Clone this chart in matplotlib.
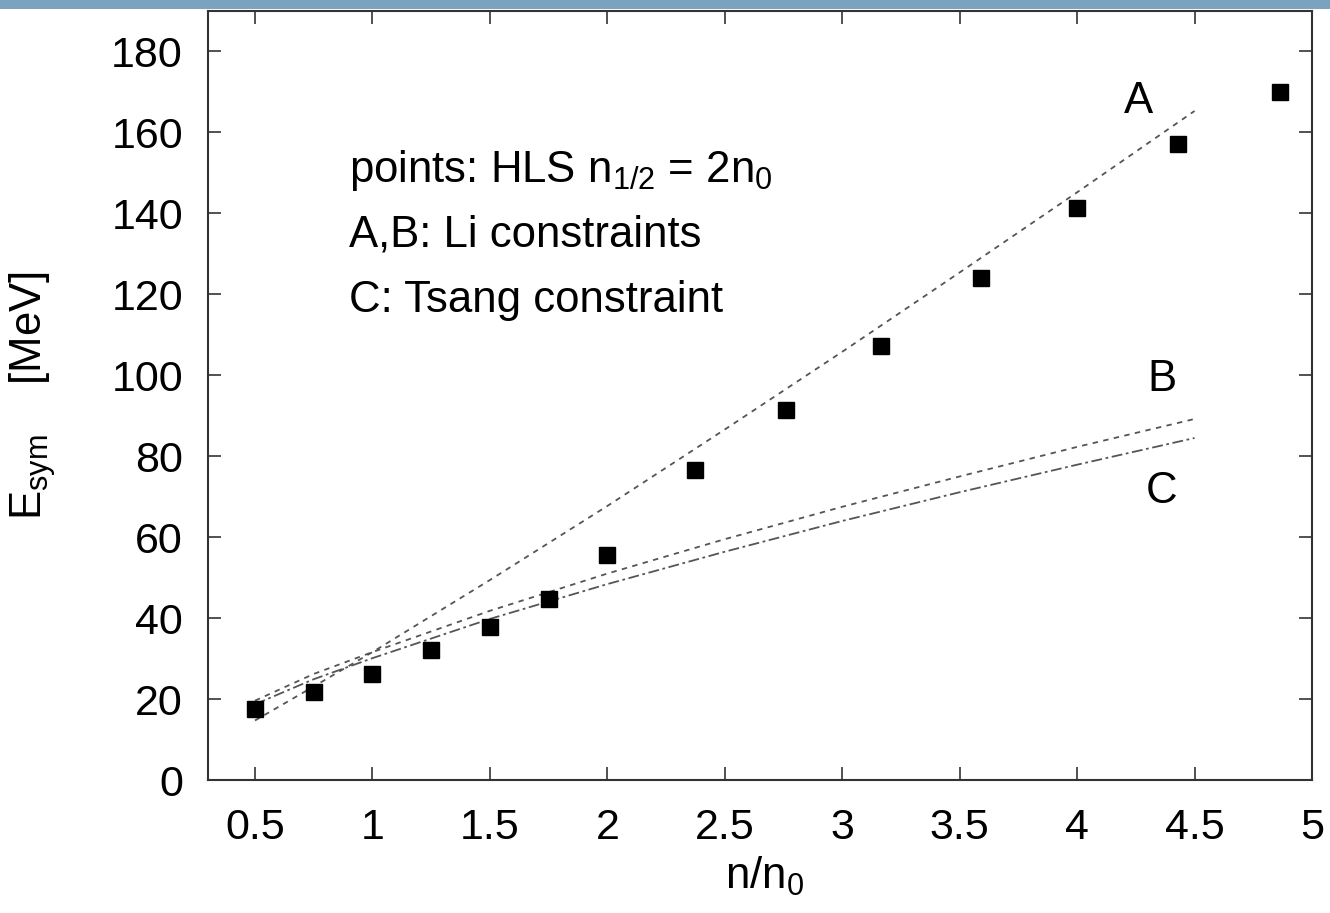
import matplotlib
matplotlib.use('Agg')
from matplotlib import pyplot as plt
from matplotlib.patches import Rectangle
import numpy as np

plt.rcParams['font.family'] = ['Liberation Sans', 'DejaVu Sans']
plt.rcParams['mathtext.fontset'] = 'custom'
plt.rcParams['mathtext.rm'] = 'Liberation Sans'
plt.rcParams['mathtext.it'] = 'Liberation Sans'

# HLS points, n_1/2 = 2 n0
n_hls = [0.5, 0.75, 1.0, 1.25, 1.5, 1.75, 2.0, 2.375, 2.76, 3.165, 3.59, 4.0, 4.43, 4.865]
e_hls = [17.6, 21.8, 26.2, 32.2, 37.9, 44.6, 55.7, 76.5, 91.3, 107.2, 124.0, 141.3, 157.2, 170.0]

# constraint curves sampled along n/n0
n_line = [0.5, 0.75, 1.0, 1.5, 2.0, 2.5, 3.0, 3.5, 4.0, 4.5]
e_a = [14.7, 23.1, 31.6, 49.4, 67.7, 86.6, 105.8, 125.4, 145.2, 165.3]
e_b = [19.6, 26.2, 31.6, 41.8, 51.0, 59.5, 67.5, 75.0, 82.3, 89.2]
e_c = [18.7, 24.9, 30.1, 39.8, 48.4, 56.4, 64.0, 71.1, 77.9, 84.5]

xticks = [0.5, 1, 1.5, 2, 2.5, 3, 3.5, 4, 4.5, 5]
xticklabels = ['0.5', '1', '1.5', '2', '2.5', '3', '3.5', '4', '4.5', '5']
yticks = list(range(0, 181, 20))

fig = plt.figure(figsize=(13.3, 9.13), dpi=100)
fig.patches.append(Rectangle((0, 1 - 9/913.), 1, 9/913., transform=fig.transFigure,
                             facecolor='#7ba3bf', edgecolor='none', zorder=0))
ax = fig.add_axes([208/1330., 133/913., 1104/1330., 769/913.])

lc = '#555555'
ax.plot(n_line, e_a, color=lc, lw=1.3, dashes=(3, 3))
ax.plot(n_line, e_b, color=lc, lw=1.3, dashes=(3, 3))
ax.plot(n_line, e_c, color=lc, lw=1.3, dashes=(6, 2, 1.5, 2))
ax.plot(n_hls, e_hls, 's', color='black', ms=11, zorder=3)

ax.set_xlim(0.3, 5)
ax.set_ylim(0, 190)
ax.set_xticks(xticks)
ax.set_xticklabels(xticklabels)
ax.set_yticks(yticks)
ax.tick_params(direction='in', length=9.5, width=1.2, color='#333333',
               top=True, right=True, labelsize=31)
ax.tick_params(axis='x', pad=20)
ax.tick_params(axis='y', pad=18)
for s in ax.spines.values():
    s.set_linewidth(1.5)
    s.set_color('#333333')

fs = 31.5
ax.text(0.9, 147.8, r'points: HLS n$_{1/2}$ = 2n$_0$', fontsize=fs)
ax.text(0.9, 131.7, 'A,B: Li constraints', fontsize=fs)
ax.text(0.9, 115.6, 'C: Tsang constraint', fontsize=fs)
ax.text(4.26, 167.6, 'A', fontsize=fs, ha='center', va='center')
ax.text(4.36, 99.0, 'B', fontsize=fs, ha='center', va='center')
ax.text(4.36, 71.3, 'C', fontsize=fs, ha='center', va='center')

fig.text(33/1330., 1 - 396/913., r'E$_{sym}$    [MeV]', rotation=90, fontsize=fs,
         ha='center', va='center')
fig.text(765/1330., 1 - 876/913., r'n/n$_0$', fontsize=fs, ha='center', va='center')

plt.savefig('out.png', dpi=100)
